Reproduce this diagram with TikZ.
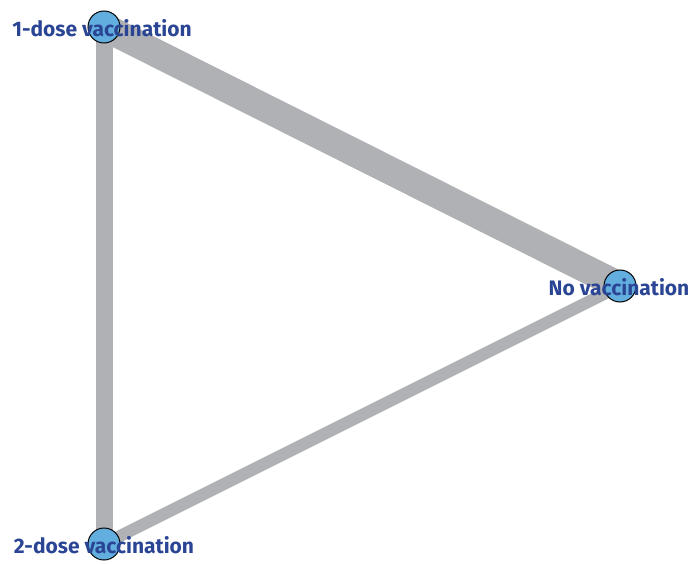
\documentclass[tikz,border=0pt]{standalone}
\usepackage{fontspec}
\setmainfont{Fira Sans}
\usepackage{xcolor}
\usetikzlibrary{backgrounds}
\definecolor{edgegray}{HTML}{B0B1B5}
\definecolor{nodeblue}{HTML}{62AEDF}
\definecolor{labblue}{HTML}{2B4595}

\begin{document}
\begin{tikzpicture}[
  x=1pt, y=-1pt,
  vertex/.style={circle, draw=black, fill=nodeblue, line width=1pt,
                 minimum size=32pt, inner sep=0pt},
  lab/.style={text=labblue, font=\fontsize{21}{24}\selectfont\bfseries,
              inner sep=0pt},
  link/.style={draw=edgegray, line cap=butt}
]
\useasboundingbox (0,0) rectangle (693,564);
% treatment nodes
\node[vertex] (one) at (104, 27) {};
\node[vertex] (none) at (620,286) {};
\node[vertex] (two) at (104,544) {};
% comparisons, width by number of studies
\begin{scope}[on background layer]
\draw[link, line width=28pt] (one.center)--(none.center);
\draw[link, line width=17pt] (one.center)--(two.center);
\draw[link, line width=12pt] (two.center)--(none.center);
\end{scope}
% labels
\node[lab] (oneL) at (102, 28) {1-dose vaccination};
\node[lab] (noneL) at (619,287) {No vaccination};
\node[lab] (twoL) at (104,545) {2-dose vaccination};
\end{tikzpicture}
\end{document}
